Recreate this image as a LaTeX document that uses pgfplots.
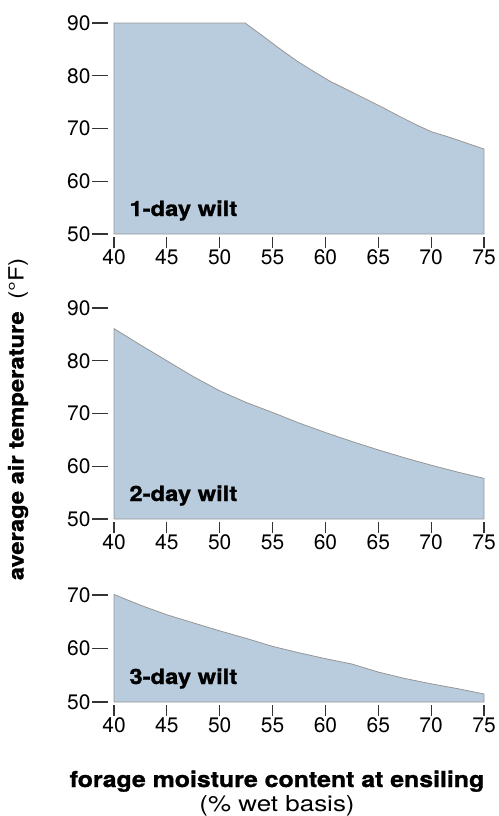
\documentclass[border=0pt]{standalone}
\usepackage{pgfplots}
\pgfplotsset{compat=1.18}
\usepackage{fontspec}
\setmainfont{TeX Gyre Heros}
\newfontfamily\blackfont[FakeStretch=1.13,FakeBold=1.2]{TeX Gyre Heros Bold}
\newfontfamily\widefont[FakeStretch=1.18]{TeX Gyre Heros}
\definecolor{areafill}{RGB}{185,204,221}
\definecolor{areadraw}{RGB}{150,150,150}
\pgfplotsset{
  panel/.style={
    scale only axis, width=370bp,
    xmin=40, xmax=75,
    clip=false,
    axis line style={draw=none},
    tick align=outside,
    xtick pos=bottom, ytick pos=left,
    xtick={40,45,...,75},
    major tick length=16bp,
    tick style={draw=none},
    yticklabel style={xshift=-4bp},
    xticklabel style={yshift=4bp},
    tick label style={font=\fontsize{21bp}{24bp}\selectfont},
    /pgf/number format/assume math mode=true,
  },
  yticks/.style={
    scale only axis, width=370bp, xmin=40, xmax=75,
    axis line style={draw=none}, tick align=outside,
    ytick pos=left, xtick=\empty, yticklabels={},
    major tick length=16bp,
    tick style={line width=1.1bp, color=black!80},
  },
  xticks/.style={
    scale only axis, width=370bp, xmin=40, xmax=75,
    axis line style={draw=none}, tick align=outside,
    xtick pos=bottom, ytick=\empty, xticklabels={},
    xtick={40,45,...,75},
    major tick length=11bp,
    tick style={line width=1.1bp, color=black!80},
  },
  wilt/.style={fill=areafill, draw=areadraw, line width=0.8bp, line join=round},
}
\begin{document}
\begin{tikzpicture}
\path[use as bounding box] (0,0) rectangle (499bp,-816bp);
% ---------- Panel 1 ----------
\begin{axis}[yticks, at={(108bp,-234bp)}, anchor=south west, height=211bp,
  ymin=50, ymax=90, ytick={50,60,...,90}]
\end{axis}
\begin{axis}[xticks, at={(114bp,-237bp)}, anchor=south west, height=211bp,
  ymin=50, ymax=90]
\end{axis}
\begin{axis}[panel, at={(114bp,-234bp)}, anchor=south west, height=211bp,
  ymin=50, ymax=90, ytick={50,60,...,90}]
\addplot[wilt] coordinates {(40,50) (40,90) (52.4,90) (54.1,87.5) (55.7,85.1) (57.3,82.8)
  (58.9,80.8) (60.4,79.0) (62.0,77.4) (63.5,75.9) (65.5,73.9) (67.0,72.3) (68.6,70.7)
  (70.0,69.4) (71.8,68.3) (73.4,67.2) (75,66.1) (75,50)} -- cycle;
\node[anchor=base west, xshift=12bp, yshift=18bp] at (axis cs:40,50)
  {\fontsize{21bp}{24bp}\blackfont 1-day wilt};
\end{axis}
% ---------- Panel 2 ----------
\begin{axis}[yticks, at={(108bp,-519bp)}, anchor=south west, height=211bp,
  ymin=50, ymax=90, ytick={50,60,...,90}]
\end{axis}
\begin{axis}[xticks, at={(114bp,-522bp)}, anchor=south west, height=211bp,
  ymin=50, ymax=90]
\end{axis}
\begin{axis}[panel, at={(114bp,-519bp)}, anchor=south west, height=211bp,
  ymin=50, ymax=90, ytick={50,60,...,90}]
\addplot[wilt] coordinates {(40,50) (40,86.1) (42.5,83.0) (45,80.0) (47.5,77.0) (50,74.3)
  (52.5,72.1) (55,70.2) (57.5,68.2) (60,66.4) (62.5,64.7) (65,63.1) (67.5,61.6) (70,60.2)
  (72.5,58.9) (75,57.7) (75,50)} -- cycle;
\node[anchor=base west, xshift=12bp, yshift=18bp] at (axis cs:40,50)
  {\fontsize{21bp}{24bp}\blackfont 2-day wilt};
\end{axis}
% ---------- Panel 3 ----------
\begin{axis}[yticks, at={(108bp,-702bp)}, anchor=south west, height=107bp,
  ymin=50, ymax=70, ytick={50,60,70}]
\end{axis}
\begin{axis}[xticks, at={(114bp,-705bp)}, anchor=south west, height=107bp,
  ymin=50, ymax=70]
\end{axis}
\begin{axis}[panel, at={(114bp,-702bp)}, anchor=south west, height=107bp,
  ymin=50, ymax=70, ytick={50,60,70}]
\addplot[wilt] coordinates {(40,50) (40,70.1) (42.5,68.1) (45,66.3) (47.5,64.8) (50,63.3)
  (52.5,61.9) (55,60.4) (57.5,59.2) (60,58.1) (62.5,57.1) (65,55.6) (67.5,54.4) (70,53.4)
  (72.5,52.5) (75,51.5) (75,50)} -- cycle;
\node[anchor=base west, xshift=12bp, yshift=18bp] at (axis cs:40,50)
  {\fontsize{21bp}{24bp}\blackfont 3-day wilt};
\end{axis}
% ---------- Axis titles ----------
\node[rotate=90, anchor=center] at (18bp,-419bp)
  {\fontsize{21bp}{24bp}\selectfont{\blackfont average air temperature}\hspace{12bp}{\widefont(°F)}};
\node[anchor=base] at (277bp,-787bp) {\fontsize{22bp}{24bp}\blackfont forage moisture content at ensiling};
\node[anchor=base] at (277bp,-811bp) {\fontsize{22bp}{24bp}\widefont (\% wet basis)};
\end{tikzpicture}
\end{document}
